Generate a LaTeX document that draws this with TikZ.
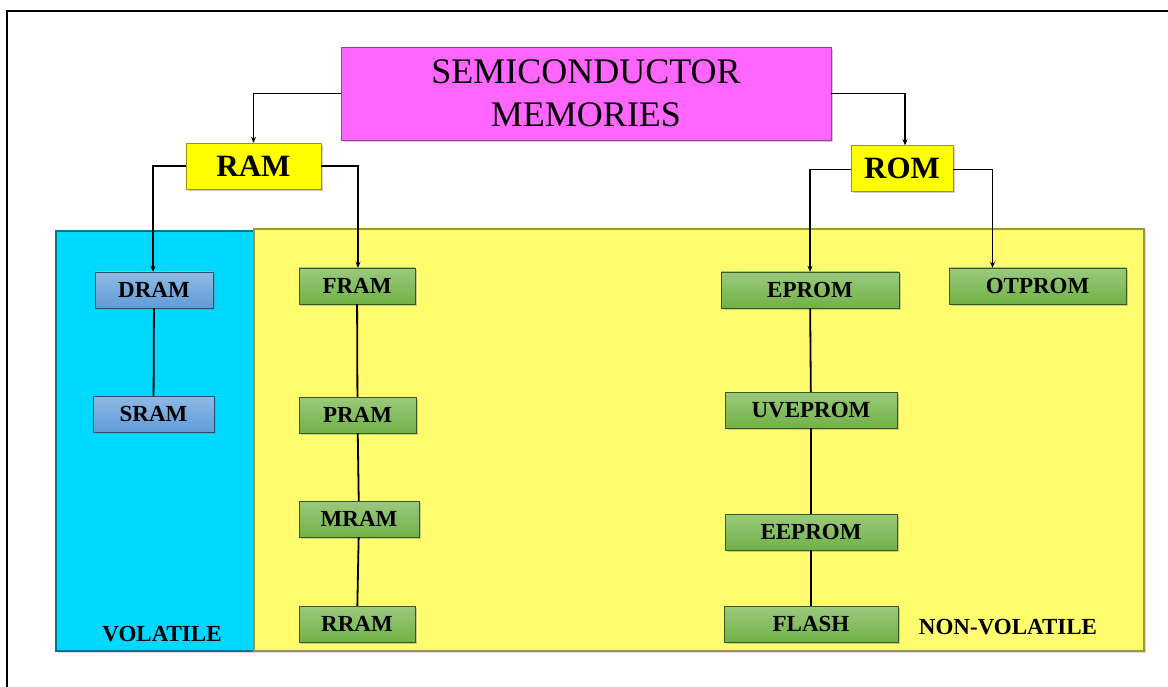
\documentclass[tikz,border=0pt]{standalone}
\usepackage{fontspec}
\setmainfont{Liberation Serif}
\usetikzlibrary{arrows.meta, shadows}

\definecolor{volblue}{RGB}{0,216,255}
\definecolor{nvyellow}{RGB}{255,252,110}
\definecolor{topmagenta}{RGB}{255,102,255}
\definecolor{typeyellow}{RGB}{255,255,0}
\definecolor{cellgreen}{RGB}{112,178,70}
\definecolor{cellblue}{RGB}{96,156,216}

\begin{document}
\begin{tikzpicture}[
    x=1pt, y=-1pt,
    panel/.style={rectangle, inner sep=0pt, line width=1.2pt, drop shadow={shadow xshift=1.5pt, shadow yshift=-1.5pt, opacity=0.3}},
    topbox/.style={rectangle, draw=topmagenta!60!black, fill=topmagenta, minimum width=490pt, minimum height=93pt, inner sep=0pt, align=center, font=\fontsize{36}{43}\selectfont, drop shadow={shadow xshift=2pt, shadow yshift=-2pt, opacity=0.4}},
    typebox/.style={rectangle, draw=typeyellow!60!black, fill=typeyellow, minimum height=46pt, inner sep=0pt, font=\fontsize{31}{34}\selectfont\bfseries, drop shadow={shadow xshift=2pt, shadow yshift=-2pt, opacity=0.4}},
    cellbox/.style={rectangle, draw=#1!50!black, top color=#1!70!white, bottom color=#1, minimum height=36pt, inner sep=0pt, font=\fontsize{23}{26}\selectfont\bfseries, drop shadow={shadow xshift=2pt, shadow yshift=-2pt, opacity=0.4}},
    greencell/.style={cellbox=cellgreen},
    bluecell/.style={cellbox=cellblue},
    panellabel/.style={font=\fontsize{23}{26}\selectfont\bfseries, inner sep=0pt},
    arr/.style={-{Stealth[length=6pt, width=5pt]}, line width=1.8pt, black},
    link/.style={line width=1.8pt, black}
]
    \useasboundingbox (0,0) rectangle (1168,687);
    \draw[line width=1.8pt] (7,687) -- (7,11) -- (1168,11);

    % Panels
    \filldraw[panel, draw=volblue!55!black, fill=volblue] (56,231) rectangle (254,651);
    \filldraw[panel, draw=nvyellow!60!black, fill=nvyellow] (254,229) rectangle (1144,651);
    \node[panellabel] (vol) at (162,634) {VOLATILE};
    \node[panellabel] (nonvol) at (1008,627) {NON-VOLATILE};

    % Nodes
    \node[topbox] (semi) at (586,93.5) {SEMICONDUCTOR\\MEMORIES};
    \node[typebox, minimum width=135pt] (ram) at (253.5,166) {RAM};
    \node[typebox, minimum width=102pt] (rom) at (902,168.5) {ROM};

    \node[bluecell, minimum width=118pt] (dram) at (154,290) {DRAM};
    \node[bluecell, minimum width=121pt] (sram) at (153.5,414) {SRAM};

    \node[greencell, minimum width=116pt] (fram) at (357,286) {FRAM};
    \node[greencell, minimum width=117pt] (pram) at (357.5,415) {PRAM};
    \node[greencell, minimum width=120pt] (mram) at (359,519) {MRAM};
    \node[greencell, minimum width=116pt] (rram) at (357,624) {RRAM};

    \node[greencell, minimum width=178pt] (eprom) at (810,290) {EPROM};
    \node[greencell, minimum width=172pt] (uveprom) at (811,410) {UVEPROM};
    \node[greencell, minimum width=172pt] (eeprom) at (811,532) {EEPROM};
    \node[greencell, minimum width=174pt] (flash) at (811,624) {FLASH};
    \node[greencell, minimum width=177pt] (otprom) at (1037.5,286) {OTPROM};

    % Arrows
    \draw[arr] (semi.west) -| (ram.north);
    \draw[arr] (semi.east) -| ([xshift=3pt]rom.north);
    \draw[arr] (ram.west) -| ([xshift=-1pt]dram.north);
    \draw[arr] (ram.east) -| ([xshift=1pt]fram.north);
    \draw[arr] ([yshift=-1pt]rom.west) -| (eprom.north);
    \draw[arr] ([yshift=-1pt]rom.east) -| ([xshift=-45pt]otprom.north);

    \draw[link] (dram) -- (sram);
    \draw[link] (fram) -- (pram) -- (mram) -- (rram);
    \draw[link] (eprom) -- (uveprom) -- (eeprom) -- (flash);
\end{tikzpicture}
\end{document}
